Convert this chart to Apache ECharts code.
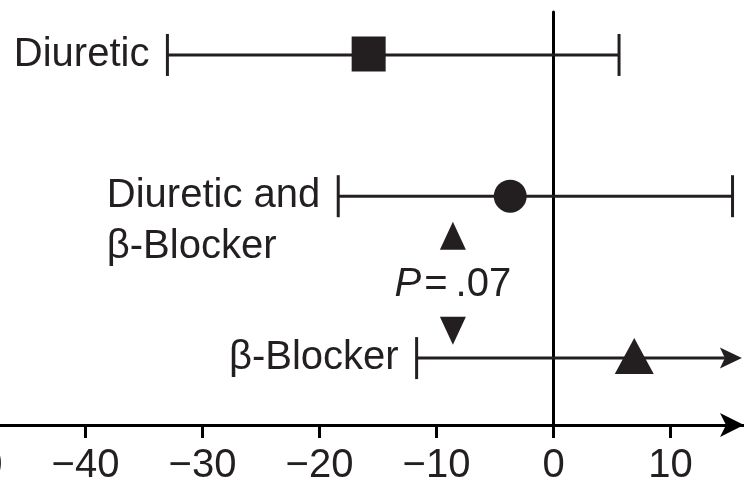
<!DOCTYPE html>
<html><head><meta charset="utf-8">
<script src="https://cdn.jsdelivr.net/npm/echarts@6/dist/echarts.min.js"></script>
<style>html,body{margin:0;padding:0;background:#fff}#c{width:744px;height:482px}</style>
</head><body><div id="c"></div>
<script>
// ---- data ----
const groups = ['Diuretic', 'Diuretic and\nβ-Blocker', 'β-Blocker'];
const estimate = [-15.8, -3.7, 6.9];
const ciLow = [-33.0, -18.4, -11.7];
const ciHigh = [5.6, 15.3, 16.1];
const ciBeyondAxis = [false, false, true];
const markerShapes = ['rect', 'circle', 'triangle'];
const tickValues = [-50, -40, -30, -20, -10, 0, 10];
const tickLabels = ['\u221250', '\u221240', '\u221230', '\u221220', '\u221210', '0', '10'];
const pValueItalic = 'P';
const pValueRest = '.07';
const pValueX = -8.6;

// ---- layout (not data) ----
const rowY = [89.6, 55.4, 16.2];          // vertical slot of each row on a 0-100 layout scale
const markerSizes = [[34, 35], 33, [39, 36]];
const markerOffsets = [[0, -1], [0, 0], [0, -2]];
const annotY = { up: 45.8, text: 33.9, down: 22.8 };
const ink = '#231f20';
const FONT = 'Liberation Sans';
const FS = 40;

const measureCtx = document.createElement('canvas').getContext('2d');
measureCtx.font = FS + 'px "' + FONT + '"';
function textWidth(s) { return Math.max.apply(null, s.split('\n').map(l => measureCtx.measureText(l).width)); }

const chart = echarts.init(document.getElementById('c'), null, { renderer: 'canvas' });

const barData = groups.map((g, i) => [ciLow[i], ciHigh[i], rowY[i], ciBeyondAxis[i] ? 1 : 0, i]);

const option = {
  animation: false,
  backgroundColor: '#fff',
  grid: { left: -31.5, right: 0, top: 12, bottom: 57, containLabel: false, outerBoundsMode: 'none' },
  xAxis: {
    type: 'value', min: -50, max: 16.28, interval: 10,
    axisLine: { show: true, onZero: false, symbol: ['none', 'arrow'], symbolSize: [18, 24],
      lineStyle: { color: '#000', width: 3 } },
    axisTick: { show: true, inside: false, length: 13, customValues: tickValues,
      lineStyle: { color: '#000', width: 3 } },
    axisLabel: { show: true, customValues: tickValues, margin: 21,
      formatter: v => tickLabels[tickValues.indexOf(v)],
      fontSize: FS, fontFamily: FONT, color: ink },
    splitLine: { show: false }
  },
  yAxis: {
    type: 'value', min: 0, max: 100,
    axisLine: { show: true, onZero: true, lineStyle: { color: '#000', width: 3 } },
    axisTick: { show: false }, axisLabel: { show: false }, splitLine: { show: false }
  },
  series: [
    {
      type: 'custom', name: 'CI', clip: false, z: 2,
      data: barData,
      encode: { x: [0, 1], y: 2 },
      renderItem: function (params, api) {
        const i = api.value(4);
        const lo = api.coord([api.value(0), api.value(2)]);
        const hi = api.coord([api.value(1), api.value(2)]);
        const y = lo[1];
        const capH = 21;
        const beyond = api.value(3) === 1;
        const ls = { stroke: ink, lineWidth: 3 };
        const children = [];
        children.push({ type: 'line', shape: { x1: lo[0], y1: y, x2: beyond ? hi[0] - 17 : hi[0], y2: y }, style: ls });
        children.push({ type: 'line', shape: { x1: lo[0], y1: y - capH, x2: lo[0], y2: y + capH }, style: ls });
        if (!beyond) {
          children.push({ type: 'line', shape: { x1: hi[0], y1: y - capH, x2: hi[0], y2: y + capH }, style: ls });
        } else {
          children.push({ type: 'polygon', shape: { points: [[hi[0], y], [hi[0] - 22, y - 10.5], [hi[0] - 17, y], [hi[0] - 22, y + 10.5]] },
            style: { fill: ink } });
        }
        const label = groups[i];
        const w = textWidth(label);
        const lh = 51;
        children.push({ type: 'text', x: lo[0] - 18 - w, y: y - lh / 2,
          style: { text: label, fontSize: FS, fontFamily: FONT, fill: ink, align: 'left', verticalAlign: 'top', lineHeight: lh } });
        return { type: 'group', children: children };
      }
    },
    {
      type: 'scatter', name: 'Estimate', z: 3,
      data: groups.map((g, i) => ({ value: [estimate[i], rowY[i]], symbol: markerShapes[i], symbolSize: markerSizes[i], symbolOffset: markerOffsets[i] })),
      itemStyle: { color: ink, opacity: 1 }
    },
    {
      type: 'custom', name: 'Comparison', clip: false, z: 3,
      data: [[pValueX, annotY.text]],
      renderItem: function (params, api) {
        const up = api.coord([api.value(0), annotY.up]);
        const tx = api.coord([api.value(0), annotY.text]);
        const dn = api.coord([api.value(0), annotY.down]);
        const hw = 13, hh = 14;
        return { type: 'group', children: [
          { type: 'polygon', shape: { points: [[up[0], up[1] - hh], [up[0] + hw, up[1] + hh], [up[0] - hw, up[1] + hh]] }, style: { fill: ink } },
          { type: 'polygon', shape: { points: [[dn[0], dn[1] + hh], [dn[0] + hw, dn[1] - hh], [dn[0] - hw, dn[1] - hh]] }, style: { fill: ink } },
          { type: 'text', x: tx[0], y: tx[1], style: {
              text: '{i|' + pValueItalic + '}{e|=}{n|' + pValueRest + '}',
              align: 'center', verticalAlign: 'middle',
              rich: {
                i: { fontSize: FS, fontFamily: FONT, fontStyle: 'italic', fill: ink },
                e: { fontSize: FS, fontFamily: FONT, fill: ink, padding: [0, 8, 0, 3] },
                n: { fontSize: FS, fontFamily: FONT, fill: ink }
              } } }
        ] };
      }
    }
  ]
};
chart.setOption(option);
</script>
</body></html>
